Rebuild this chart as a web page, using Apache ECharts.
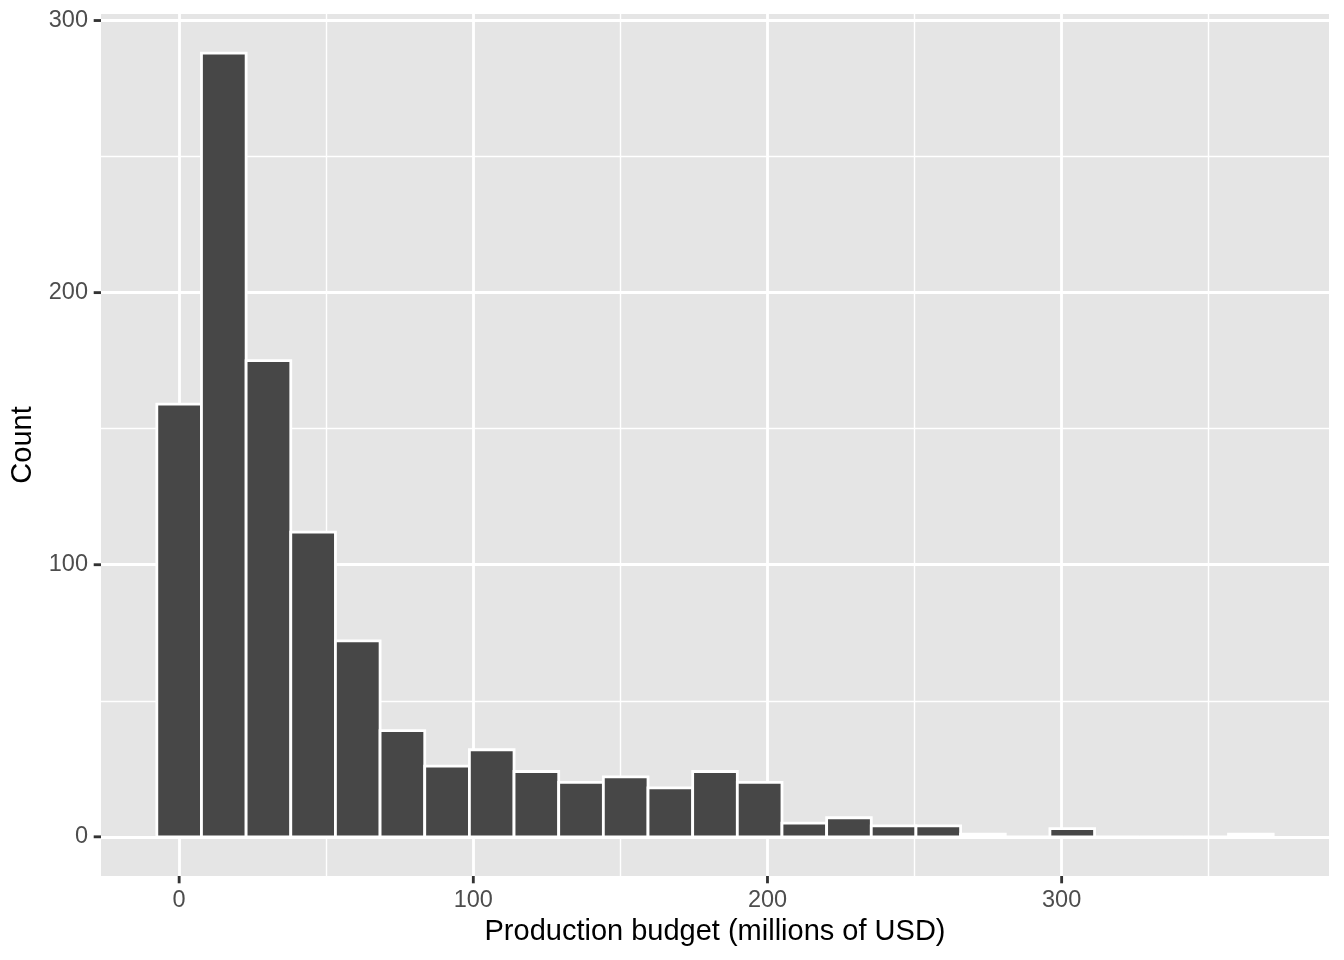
<!DOCTYPE html>
<html>
<head>
<meta charset="utf-8">
<title>Production budget histogram</title>
<script src="https://cdn.jsdelivr.net/npm/echarts@6/dist/echarts.min.js"></script>
<style>
  html, body { margin: 0; padding: 0; background: #fff; }
  #main { width: 1344px; height: 960px; }
</style>
</head>
<body>
<div id="main"></div>
<script>
// histogram counts, one per bin (bins centred on k * binWidth)
const binWidth = 15.18
const counts = [159, 288, 175, 112, 72, 39, 26, 32, 24, 20, 22, 18, 24, 20, 5, 7, 4, 4, 1, 0, 3, 0, 0, 0, 1]
// axis ticks
const xTicks = [0, 100, 200, 300]
const xMinor = [50, 150, 250, 350]
const yTicks = [0, 100, 200, 300]
const yMinor = [50, 150, 250]

const font = '"Liberation Sans", Arial, Helvetica, sans-serif'

// [start, end, count] per bin
let bins = counts.map((c, k) => [(k - 0.5) * binWidth, (k + 0.5) * binWidth, c])

// ggplot-like 5% expansion of the data range
let xLo = bins[0][0], xHi = bins[bins.length - 1][1]
let xPad = (xHi - xLo) * 0.05
let yHi = Math.max(...counts)
let yPad = yHi * 0.05

function renderItem(params, api) {
  let p0 = api.coord([api.value(0), api.value(2)])
  let p1 = api.coord([api.value(1), 0])
  return {
    type: 'rect',
    shape: { x: p0[0], y: p0[1], width: p1[0] - p0[0], height: p1[1] - p0[1] },
    style: { fill: '#474747', stroke: '#ffffff', lineWidth: 2.8 },
  }
}

// grid lines drawn as mark lines so they sit on the right values
let gridLines = []
xTicks.forEach((v) => gridLines.push({ xAxis: v, lineStyle: { width: 2.84 } }))
xMinor.forEach((v) => gridLines.push({ xAxis: v, lineStyle: { width: 1.42 } }))
yTicks.forEach((v) => gridLines.push({ yAxis: v, lineStyle: { width: 2.84 } }))
yMinor.forEach((v) => gridLines.push({ yAxis: v, lineStyle: { width: 1.42 } }))

var myChart = echarts.init(document.getElementById('main'))
var option = {
  backgroundColor: '#ffffff',
  animation: false,
  textStyle: { fontFamily: font },
  grid: {
    left: 101,
    right: 15,
    top: 14,
    bottom: 84,
    show: true,
    backgroundColor: '#E5E5E5',
    borderWidth: 0,
  },
  xAxis: {
    type: 'value',
    min: xLo - xPad,
    max: xHi + xPad,
    name: 'Production budget (millions of USD)',
    nameLocation: 'middle',
    nameGap: 40,
    nameTextStyle: { fontSize: 29, color: '#000000', fontFamily: font },
    axisLine: { show: false },
    axisTick: { show: false },
    axisLabel: {
      customValues: xTicks,
      margin: 13,
      fontSize: 23.5,
      color: '#4D4D4D',
      fontFamily: font,
    },
    splitLine: { show: false },
  },
  yAxis: {
    type: 'value',
    min: -yPad,
    max: yHi + yPad,
    name: 'Count',
    nameLocation: 'middle',
    nameGap: 59,
    nameRotate: 90,
    nameTextStyle: { fontSize: 29, color: '#000000', fontFamily: font },
    axisLine: { show: false },
    axisTick: { show: false },
    axisLabel: {
      customValues: yTicks,
      margin: 13,
      fontSize: 23.5,
      color: '#4D4D4D',
      fontFamily: font,
    },
    splitLine: { show: false },
  },
  series: [
    {
      name: 'Count',
      type: 'custom',
      renderItem: renderItem,
      encode: { x: [0, 1], y: 2 },
      data: bins,
      z: 3,
      clip: false,
      markLine: {
        silent: true,
        z: 1,
        symbol: 'none',
        label: { show: false },
        lineStyle: { color: '#ffffff', type: 'solid' },
        data: gridLines,
      },
    },
  ],
}
myChart.setOption(option)

// outside tick marks, placed with the chart's own axis scales
let xEdge = myChart.convertToPixel({ yAxisIndex: 0 }, -yPad)
let yEdge = myChart.convertToPixel({ xAxisIndex: 0 }, xLo - xPad)
let tickStyle = { stroke: '#333333', lineWidth: 2.84 }
let tickMarks = []
xTicks.forEach((v) => {
  let px = myChart.convertToPixel({ xAxisIndex: 0 }, v)
  tickMarks.push({ type: 'line', shape: { x1: px, y1: xEdge, x2: px, y2: xEdge + 7.3 }, style: tickStyle, silent: true })
})
yTicks.forEach((v) => {
  let py = myChart.convertToPixel({ yAxisIndex: 0 }, v)
  tickMarks.push({ type: 'line', shape: { x1: yEdge - 7.3, y1: py, x2: yEdge, y2: py }, style: tickStyle, silent: true })
})
myChart.setOption({ graphic: tickMarks })
</script>
</body>
</html>
